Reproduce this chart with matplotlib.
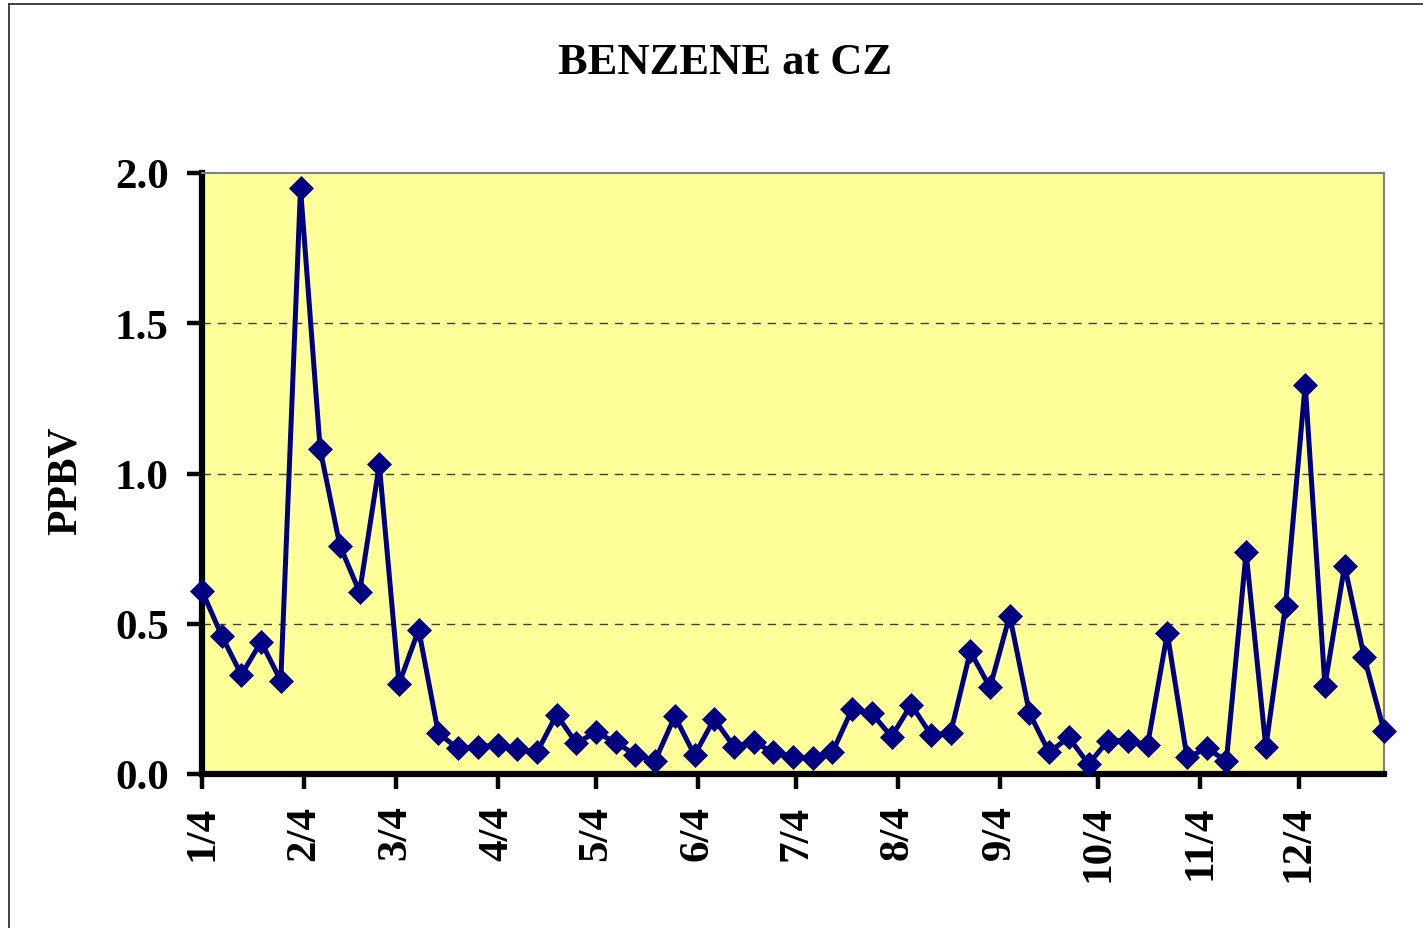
import pandas as pd
import matplotlib
matplotlib.use("Agg")
import matplotlib.pyplot as plt
from matplotlib.lines import Line2D

# sampling days (every sixth day, month/day)
sample_days = [
    "1/4", "1/10", "1/16", "1/22", "1/28",
    "2/3", "2/9", "2/15", "2/21", "2/27",
    "3/5", "3/11", "3/17", "3/23", "3/29",
    "4/4", "4/10", "4/16", "4/22", "4/28",
    "5/4", "5/10", "5/16", "5/22", "5/28",
    "6/3", "6/9", "6/15", "6/21", "6/27",
    "7/3", "7/9", "7/15", "7/21", "7/27",
    "8/2", "8/8", "8/14", "8/20", "8/26",
    "9/1", "9/7", "9/13", "9/19", "9/25",
    "10/1", "10/7", "10/13", "10/19", "10/25", "10/31",
    "11/6", "11/12", "11/18", "11/24", "11/30",
    "12/6", "12/12", "12/18", "12/24", "12/30",
]

# benzene (ppbv)
benzene = [
    0.61, 0.46, 0.33, 0.44, 0.31,
    1.95, 1.08, 0.76, 0.605, 1.03,
    0.30, 0.48, 0.135, 0.085, 0.09,
    0.097, 0.083, 0.072, 0.197, 0.103,
    0.139, 0.105, 0.064, 0.044, 0.192,
    0.063, 0.183, 0.091, 0.107, 0.072,
    0.058, 0.053, 0.072, 0.216, 0.202,
    0.124, 0.231, 0.131, 0.136, 0.408,
    0.288, 0.527, 0.203, 0.072, 0.122,
    0.033, 0.111, 0.111, 0.097, 0.468, 0.055,
    0.085, 0.044, 0.738, 0.089, 0.56,
    1.296, 0.294, 0.693, 0.388, 0.144,
]

month_ticks = ["1/4", "2/4", "3/4", "4/4", "5/4", "6/4",
               "7/4", "8/4", "9/4", "10/4", "11/4", "12/4"]
y_ticks = [0.0, 0.5, 1.0, 1.5, 2.0]

YEAR = "2001/"
dates = pd.to_datetime([YEAR + d for d in sample_days], format="%Y/%m/%d")
tick_dates = pd.to_datetime([YEAR + d for d in month_ticks], format="%Y/%m/%d")

plt.rcParams['font.family'] = ['Liberation Serif', 'DejaVu Serif']
plt.rcParams['font.weight'] = 'bold'

fig = plt.figure(figsize=(14.23, 9.29), dpi=100)
ax = fig.add_axes([202 / 1423, 1 - 775 / 929, 1182 / 1423, 601 / 929])
ax.set_facecolor('#FFFF99')

ax.plot(dates, benzene, color='#000080', linewidth=3.6, marker='D',
        markersize=12, markerfacecolor='#000080', markeredgecolor='#000080',
        markeredgewidth=0.5, clip_on=False, zorder=3)

ax.set_xlim(dates[0], dates[-1])
ax.set_ylim(0, 2.0)
ax.set_yticks(y_ticks)
ax.set_yticklabels([f"{v:.1f}" for v in y_ticks])
ax.set_xticks(tick_dates)
ax.set_xticklabels(month_ticks, rotation=90)

ax.tick_params(axis='both', direction='out', length=11, width=3.2,
               labelsize=31, color='black')
ax.tick_params(axis='y', pad=13)
ax.tick_params(axis='x', pad=11)

for v in y_ticks[1:-1]:
    ax.axhline(v, color='#404040', linewidth=1.0, linestyle=(0, (6, 5)), zorder=1)

ax.spines['left'].set_linewidth(4.5)
ax.spines['bottom'].set_linewidth(4.5)
ax.spines['top'].set_color('#808080')
ax.spines['right'].set_color('#808080')
ax.spines['top'].set_linewidth(1.5)
ax.spines['right'].set_linewidth(1.5)

ax.set_ylabel('PPBV', fontsize=30, fontweight='bold')
ax.yaxis.set_label_coords(-0.099, 0.49)

fig.text(0.5095, 1 - 63 / 929, 'BENZENE at CZ', ha='center', va='center',
         fontsize=32, fontweight='bold')

# chart area frame (right and bottom edges fall outside the picture)
fig.add_artist(Line2D([9 / 1423, 9 / 1423], [0, 1 - 5 / 929], color='#333333', linewidth=1.3))
fig.add_artist(Line2D([9 / 1423, 1], [1 - 5 / 929, 1 - 5 / 929], color='#333333', linewidth=1.3))

fig.savefig('out.png', dpi=100)
